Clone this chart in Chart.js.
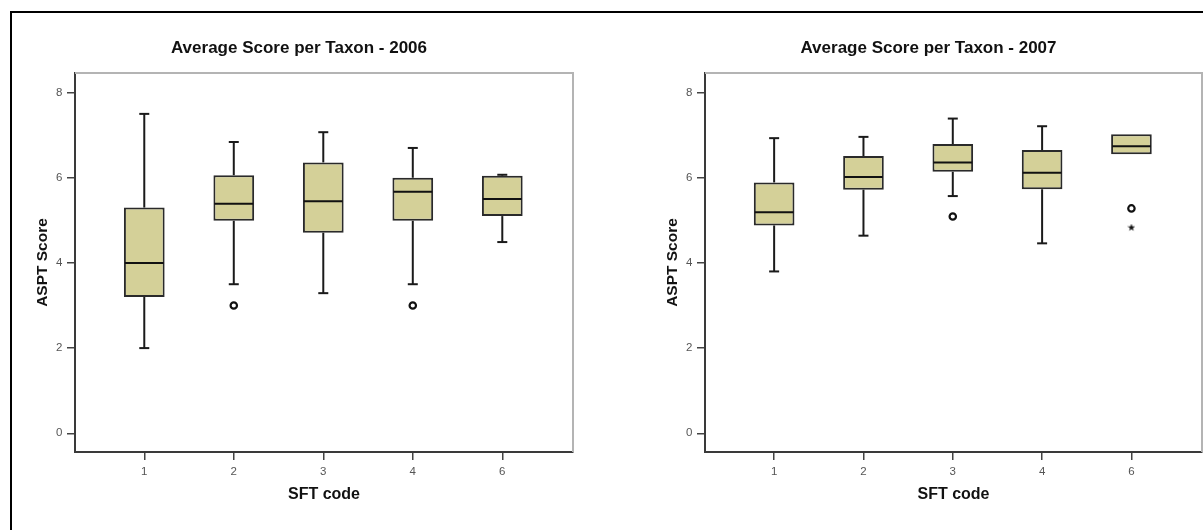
<!DOCTYPE html>
<html>
<head>
<meta charset="utf-8">
<script src="https://cdn.jsdelivr.net/npm/chart.js@4.4.1/dist/chart.umd.min.js"></script>
<style>
  html, body { margin: 0; padding: 0; background: #fff; }
  body { width: 1203px; height: 530px; overflow: hidden; position: relative; }
  #frame { position: absolute; left: 10px; top: 11px; width: 1200px; height: 530px;
           border-top: 2px solid #000; border-left: 2px solid #000; }
  canvas { position: absolute; top: 0; }
  #c2006 { left: 0; }
  #c2007 { left: 630px; }
</style>
</head>
<body>
<div id="frame"></div>
<canvas id="c2006" width="598" height="530"></canvas>
<canvas id="c2007" width="597" height="530"></canvas>
<script>
// categories and axis ticks
const sftCodes = ['1', '2', '3', '4', '6'];
const yTicks = [0, 2, 4, 6, 8];

// 2006 box statistics
const low2006  = [2.00, 3.50, 3.29, 3.50, 4.49];
const q1_2006  = [3.20, 4.99, 4.71, 4.99, 5.10];
const med2006  = [4.00, 5.39, 5.45, 5.67, 5.50];
const q3_2006  = [5.30, 6.06, 6.36, 6.00, 6.05];
const high2006 = [7.50, 6.84, 7.07, 6.70, 6.07];
const outCat2006 = ['2', '4'];
const outVal2006 = [3.00, 3.00];
const extCat2006 = [];
const extVal2006 = [];

// 2007 box statistics
const low2007  = [3.80, 4.64, 5.57, 4.46, 6.55];
const q1_2007  = [4.88, 5.72, 6.14, 5.73, 6.55];
const med2007  = [5.19, 6.02, 6.36, 6.12, 6.74];
const q3_2007  = [5.89, 6.51, 6.79, 6.65, 7.02];
const high2007 = [6.93, 6.96, 7.39, 7.21, 7.02];
const outCat2007 = ['3', '6'];
const outVal2007 = [5.09, 5.28];
const extCat2007 = ['6'];
const extVal2007 = [4.83];

const FONT = "'Liberation Sans', Arial, sans-serif";
const BOX_FILL = '#d4d098';
const INK = '#1a1a1a';

function starImage(size) {
  const c = document.createElement('canvas');
  c.width = c.height = size;
  const g = c.getContext('2d');
  g.fillStyle = '#111';
  g.beginPath();
  for (let k = 0; k < 10; k++) {
    const r = k % 2 ? size * 0.2 : size * 0.5;
    const a = -Math.PI / 2 + k * Math.PI / 5;
    g.lineTo(size / 2 + r * Math.cos(a), size / 2 + r * Math.sin(a));
  }
  g.closePath();
  g.fill();
  return c;
}

// whiskers, caps and medians, placed with the chart's own scales
const boxWhiskers = {
  id: 'boxWhiskers',
  afterDatasetsDraw(chart, args, opts) {
    const {ctx, scales: {y}} = chart;
    const bars = chart.getDatasetMeta(0).data;
    ctx.save();
    ctx.strokeStyle = INK;
    ctx.lineWidth = 2;
    const line = (x1, y1, x2, y2) => {
      ctx.beginPath(); ctx.moveTo(x1, y1); ctx.lineTo(x2, y2); ctx.stroke();
    };
    bars.forEach((bar, i) => {
      const {x, width} = bar.getProps(['x', 'width'], true);
      const pLow = y.getPixelForValue(opts.low[i]);
      const pHigh = y.getPixelForValue(opts.high[i]);
      const pQ1 = y.getPixelForValue(opts.q1[i]);
      const pQ3 = y.getPixelForValue(opts.q3[i]);
      const pMed = y.getPixelForValue(opts.med[i]);
      if (pLow - pQ1 > 0.5) {
        line(x, pQ1, x, pLow);
        line(x - 5, pLow, x + 5, pLow);
      }
      if (pQ3 - pHigh > 0.5) {
        line(x, pQ3, x, pHigh);
        line(x - 5, pHigh, x + 5, pHigh);
      }
      ctx.strokeStyle = '#111';
      line(x - width / 2 + 1, pMed, x + width / 2 - 1, pMed);
      ctx.strokeStyle = INK;
    });
    ctx.restore();
  }
};

// light top and right edges of the plot frame
const plotFrame = {
  id: 'plotFrame',
  beforeDatasetsDraw(chart) {
    const {ctx, chartArea: a} = chart;
    ctx.save();
    ctx.strokeStyle = '#b4b4b4';
    ctx.lineWidth = 2;
    ctx.beginPath();
    ctx.moveTo(a.left, a.top);
    ctx.lineTo(a.right, a.top);
    ctx.lineTo(a.right, a.bottom);
    ctx.stroke();
    ctx.restore();
  }
};

function makeChart(id, title, low, q1, med, q3, high, outCat, outVal, extCat, extVal) {
  const boxes = sftCodes.map((c, i) => ({x: i + 1, y: [q1[i], q3[i]]}));
  const outliers = outCat.map((c, i) => ({x: sftCodes.indexOf(c) + 1, y: outVal[i]}));
  const extremes = extCat.map((c, i) => ({x: sftCodes.indexOf(c) + 1, y: extVal[i]}));

  return new Chart(document.getElementById(id), {
    type: 'bar',
    data: {
      datasets: [
        {
          data: boxes,
          backgroundColor: BOX_FILL,
          borderColor: '#2a2a2a',
          borderWidth: 2,
          borderSkipped: false,
          categoryPercentage: 1,
          barPercentage: 0.455
        },
        {
          type: 'scatter',
          data: outliers,
          pointStyle: 'circle',
          pointRadius: 3.2,
          pointBorderWidth: 2.2,
          pointBorderColor: '#111',
          pointBackgroundColor: '#fff'
        },
        {
          type: 'scatter',
          data: extremes,
          pointStyle: starImage(8),
          pointRadius: 4
        }
      ]
    },
    options: {
      responsive: false,
      animation: false,
      layout: {padding: {left: 25, right: 25, top: 0, bottom: 26.2}},
      plugins: {
        legend: {display: false},
        tooltip: {enabled: false},
        title: {
          display: true,
          text: title,
          color: '#111',
          font: {family: FONT, size: 17, weight: 'bold'},
          padding: {top: 38, bottom: 14.6}
        },
        boxWhiskers: {low, q1, med, q3, high}
      },
      scales: {
        x: {
          type: 'linear',
          min: 0.226,
          max: 5.79,
          offset: false,
          afterBuildTicks: s => { s.ticks = sftCodes.map((c, i) => ({value: i + 1})); },
          ticks: {
            autoSkip: false,
            padding: 4.8,
            color: '#555',
            font: {family: FONT, size: 11.5},
            callback: v => sftCodes[Math.round(v) - 1]
          },
          grid: {offset: false, drawOnChartArea: false, drawTicks: true, tickLength: 8, color: '#444', lineWidth: 1.5},
          border: {display: true, color: '#3a3a3a', width: 2},
          title: {
            display: true,
            text: 'SFT code',
            color: '#111',
            font: {family: FONT, size: 16, weight: 'bold'},
            padding: {top: 1.2, bottom: 0}
          }
        },
        y: {
          min: -0.44,
          max: 8.46,
          afterBuildTicks: s => { s.ticks = yTicks.map(v => ({value: v})); },
          afterFit: s => { s.width = 50; },
          ticks: {
            padding: 4.5,
            color: '#555',
            font: {family: FONT, size: 11.5}
          },
          grid: {drawOnChartArea: false, drawTicks: true, tickLength: 8, color: '#444', lineWidth: 1.5},
          border: {display: true, color: '#3a3a3a', width: 2},
          title: {
            display: true,
            text: 'ASPT Score',
            color: '#111',
            font: {family: FONT, size: 15.5, weight: 'bold'},
            padding: {top: 8, bottom: 0}
          }
        }
      }
    },
    plugins: [plotFrame, boxWhiskers]
  });
}

makeChart('c2006', 'Average Score per Taxon - 2006',
  low2006, q1_2006, med2006, q3_2006, high2006, outCat2006, outVal2006, extCat2006, extVal2006);
makeChart('c2007', 'Average Score per Taxon - 2007',
  low2007, q1_2007, med2007, q3_2007, high2007, outCat2007, outVal2007, extCat2007, extVal2007);
</script>
</body>
</html>
